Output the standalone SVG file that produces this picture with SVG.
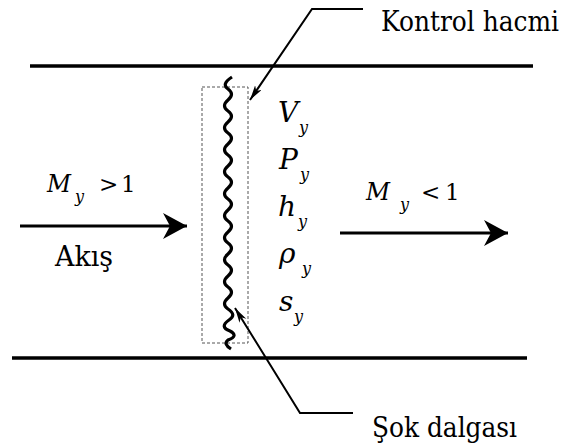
<svg xmlns="http://www.w3.org/2000/svg" width="581" height="443" viewBox="0 0 581 443">
<style>
text{font-family:'DejaVu Serif',serif;fill:#000}
.i{font-style:italic}
.ln{stroke:#000;fill:none}
.sub{font-style:italic;font-size:16px}
.var{font-style:italic;font-size:28px}
</style>
<defs>
<marker id="big" markerWidth="26" markerHeight="28" refX="24" refY="13" orient="auto" markerUnits="userSpaceOnUse">
<path d="M24,13 L0,0 L7,13 L0,26 z" fill="#000"/>
</marker>
<marker id="sm" markerWidth="18" markerHeight="10" refX="15" refY="4" orient="auto" markerUnits="userSpaceOnUse">
<path d="M15,4 L0,0 L4,4 L0,8 z" fill="#000"/>
</marker>
</defs>
<g id="walls">
<line class="ln" x1="30" y1="66" x2="533" y2="66" stroke-width="3.5"/>
<line class="ln" x1="12" y1="358" x2="527" y2="358" stroke-width="3.5"/>
</g>
<g id="control-volume">
<rect x="202" y="87" width="46" height="256" fill="none" stroke="#555" stroke-width="1" stroke-dasharray="3,2"/>
</g>
<g id="shock">
<path class="ln" stroke-width="3.2" d="M232,77 Q221,84 228,89 T228,100 T228,111 T228,122 T228,133 T228,144 T228,155 T228,166 T228,177 T228,188 T228,199 T228,210 T228,221 T228,232 T228,243 T228,254 T228,265 T228,276 T228,287 T228,298 T228,309 Q237,315 229,320 Q219,327 230,331 Q239,336 228,340 Q223,344 231,349"/>
</g>
<g id="connectors">
<line class="ln" x1="20" y1="226" x2="187" y2="226" stroke-width="2.8" marker-end="url(#big)"/>
<line class="ln" x1="340" y1="233" x2="508" y2="233" stroke-width="2.8" marker-end="url(#big)"/>
<polyline class="ln" points="363,9 312,9 250,100" stroke-width="2" marker-end="url(#sm)"/>
<polyline class="ln" points="353,413 300,413 235,308" stroke-width="2" marker-end="url(#sm)"/>
</g>
<g id="label-kontrol"><text x="381" y="31" font-size="28" textLength="178" lengthAdjust="spacingAndGlyphs">Kontrol hacmi</text></g>
<g id="label-sok"><text x="372" y="437" font-size="28" textLength="145" lengthAdjust="spacingAndGlyphs">Şok dalgası</text></g>
<g id="label-upstream">
<text class="i" x="47" y="192" font-size="24" textLength="24" lengthAdjust="spacingAndGlyphs">M</text>
<text class="sub" x="75" y="202">y</text>
<text x="99" y="192" font-size="23">&gt;</text>
<text x="121" y="192" font-size="23">1</text>
<text x="55" y="266" font-size="27" textLength="58" lengthAdjust="spacingAndGlyphs">Akış</text>
</g>
<g id="label-downstream">
<text class="i" x="366" y="200" font-size="24" textLength="24" lengthAdjust="spacingAndGlyphs">M</text>
<text class="sub" x="400" y="210">y</text>
<text x="421" y="200" font-size="23">&lt;</text>
<text x="445" y="200" font-size="23">1</text>
</g>
<g id="props">
<text class="var" x="278" y="122">V</text><text class="sub" x="299" y="133">y</text>
<text class="var" x="279" y="169">P</text><text class="sub" x="300" y="180">y</text>
<text class="var" x="278" y="216">h</text><text class="sub" x="298" y="227">y</text>
<text class="var" x="279" y="263">ρ</text><text class="sub" x="302" y="274">y</text>
<text class="var" x="279" y="311">s</text><text class="sub" x="294" y="322">y</text>
</g>
</svg>
